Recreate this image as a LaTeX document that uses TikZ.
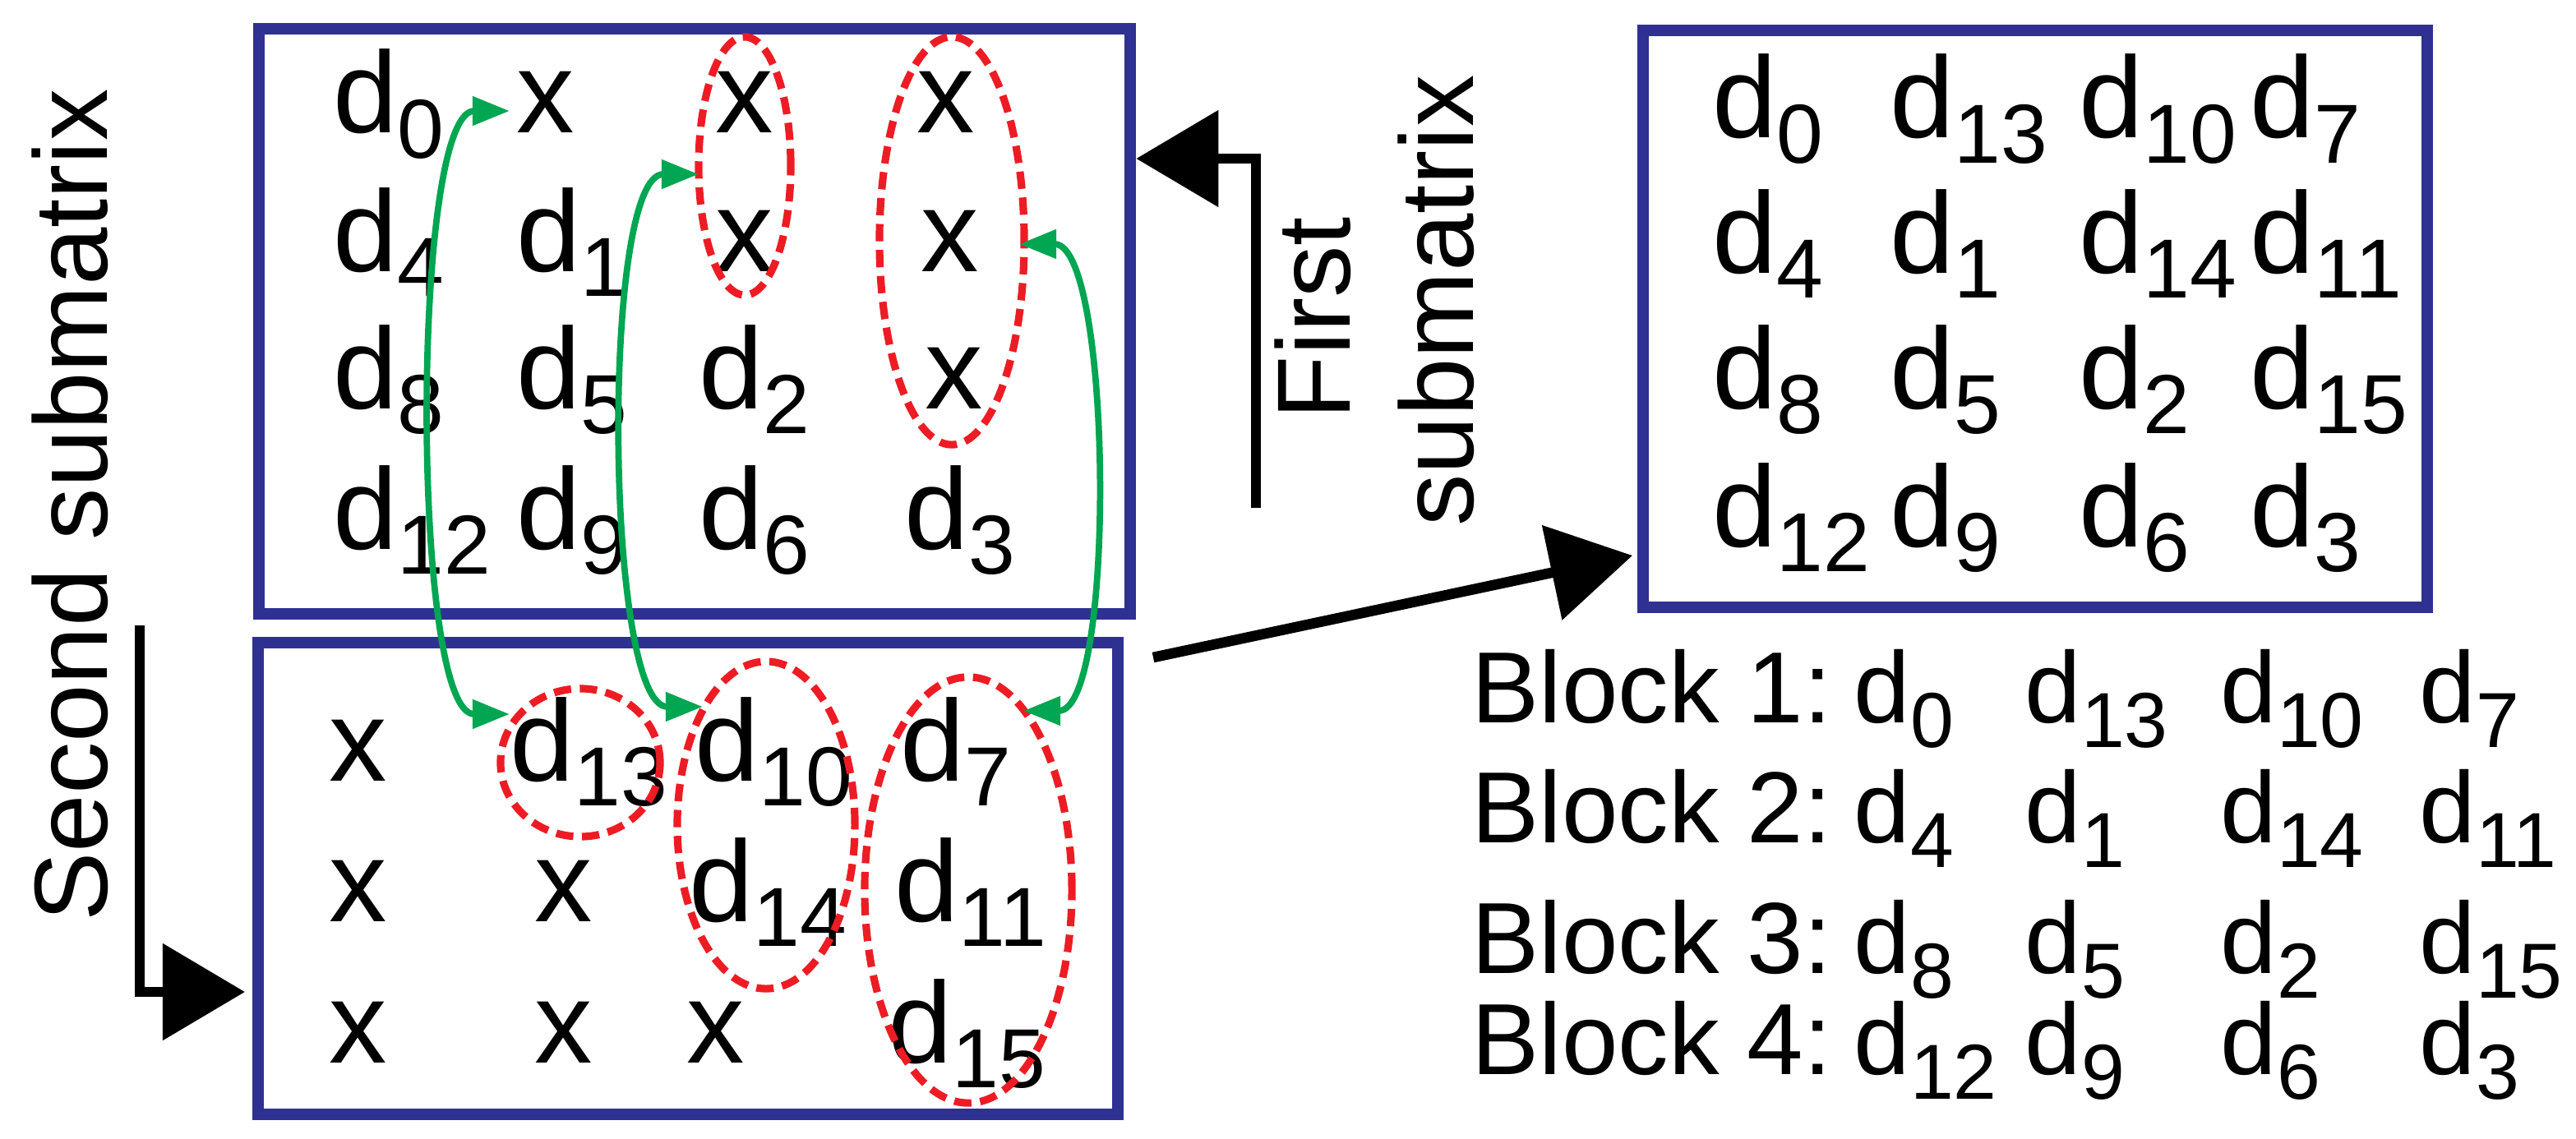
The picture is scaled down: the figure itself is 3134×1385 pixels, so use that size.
\documentclass[tikz,border=0pt]{standalone}
\usepackage{fontspec}
\setmainfont{Liberation Sans}
\usetikzlibrary{arrows.meta,shapes.geometric}
\definecolor{boxblue}{RGB}{46,49,146}
\definecolor{ringred}{RGB}{237,28,36}
\definecolor{swapgreen}{RGB}{0,166,81}
\newcommand{\sd}[1]{d\raisebox{-0.22em}{\fontsize{29}{29}\selectfont #1}}
\newcommand{\bd}[1]{d\raisebox{-0.25em}{\fontsize{27}{27}\selectfont #1}}

\begin{document}
\begin{tikzpicture}[x=0.01cm,y=-0.01cm]
\tikzstyle{every node}=[inner sep=0pt]
\tikzstyle{entry}=[anchor=base west,font=\fontsize{40}{40}\selectfont]
\tikzstyle{blk}=[anchor=base west,font=\fontsize{35}{35}\selectfont]
\tikzstyle{label}=[font=\fontsize{36}{36}\selectfont]
\tikzstyle{box}=[draw=boxblue,line width=4pt]
\tikzstyle{ring}=[draw=ringred,ellipse,line width=2.6pt,dash pattern=on 6pt off 3pt]
\tikzstyle{swap}=[draw=swapgreen,line width=2.2pt,{Triangle[length=0.45cm,width=0.34cm]}-{Triangle[length=0.45cm,width=0.34cm]}]
\tikzstyle{move}=[draw=black,line width=3.6pt,-{Triangle[length=1cm,width=1.15cm]}]
\useasboundingbox (0,0) rectangle (3134,1385);
% boxes
\node (first) [box,minimum width=10.6cm,minimum height=7.11cm] at (845,391) {};
\node (second) [box,minimum width=10.45cm,minimum height=5.74cm] at (837,1069) {};
\node (result) [box,minimum width=9.54cm,minimum height=7.01cm] at (2476,388) {};
% first submatrix
\foreach \x/\y/\t/\n in {405/162/\sd{0}/a0, 628/162/x/a1, 870/162/x/a2, 1115/162/x/a3,
  405/330/\sd{4}/b0, 628/330/\sd{1}/b1, 870/330/x/b2, 1120/330/x/b3,
  405/497/\sd{8}/c0, 628/497/\sd{5}/c1, 850/497/\sd{2}/c2, 1125/497/x/c3,
  405/668/\sd{12}/e0, 628/668/\sd{9}/e1, 850/668/\sd{6}/e2, 1100/668/\sd{3}/e3}
  \node (f\n) [entry] at (\x,\y) {\t};
% second submatrix
\foreach \x/\y/\t/\n in {400/950/x/a0, 620/950/\sd{13}/a1, 845/950/\sd{10}/a2, 1095/950/\sd{7}/a3,
  400/1121/x/b0, 650/1121/x/b1, 838/1121/\sd{14}/b2, 1088/1121/\sd{11}/b3,
  400/1293/x/c0, 650/1293/x/c1, 835/1293/x/c2, 1080/1293/\sd{15}/c3}
  \node (s\n) [entry] at (\x,\y) {\t};
% result matrix
\foreach \x/\y/\t/\n in {2083/168/\sd{0}/a0, 2299/168/\sd{13}/a1, 2529/168/\sd{10}/a2, 2737/168/\sd{7}/a3,
  2083/332/\sd{4}/b0, 2299/332/\sd{1}/b1, 2529/332/\sd{14}/b2, 2737/332/\sd{11}/b3,
  2083/497/\sd{8}/c0, 2299/497/\sd{5}/c1, 2529/497/\sd{2}/c2, 2737/497/\sd{15}/c3,
  2083/665/\sd{12}/e0, 2299/665/\sd{9}/e1, 2529/665/\sd{6}/e2, 2737/665/\sd{3}/e3}
  \node (r\n) [entry] at (\x,\y) {\t};
% blocks
\foreach \y/\k/\p/\q/\r/\s in {879/1/0/13/10/7, 1025/2/4/1/14/11, 1184/3/8/5/2/15, 1307/4/12/9/6/3} {
  \node (blk\k) [blk] at (1790,\y) {Block \k:};
  \node (blk\k a) [blk] at (2255,\y) {\bd{\p}};
  \node (blk\k b) [blk] at (2463,\y) {\bd{\q}};
  \node (blk\k c) [blk] at (2701,\y) {\bd{\r}};
  \node (blk\k d) [blk] at (2943,\y) {\bd{\s}};
}
% rings
\node (ring1) [ring,minimum width=1.12cm,minimum height=3.14cm] at (906,202) {};
\node (ring2) [ring,minimum width=1.76cm,minimum height=4.96cm] at (1158,293) {};
\node (ring3) [ring,minimum width=1.94cm,minimum height=1.8cm] at (706,928) {};
\node (ring4) [ring,minimum width=2.16cm,minimum height=3.98cm] at (932,1004) {};
\node (ring5) [ring,minimum width=2.52cm,minimum height=5.18cm] at (1178,1083) {};
% swaps
\coordinate (t1) at (620,135); \coordinate (u1) at (620,869);
\coordinate (t2) at (850,212); \coordinate (u2) at (855,860);
\coordinate (t3) at (1240,297); \coordinate (u3) at (1245,865);
\draw[swap] (t1) to[out=180,in=180,looseness=0.42] (u1);
\draw[swap] (t2) to[out=180,in=180,looseness=0.47] (u2);
\draw[swap] (t3) to[out=0,in=0,looseness=0.51] (u3);
% labels and moves
\node (lsecond) [label,rotate=90] at (85,615) {Second submatrix};
\node (lfirst) [label,rotate=90] at (1597,387) {First};
\node (lsub) [label,rotate=90] at (1747,366) {submatrix};
\coordinate (m1) at (1528,618); \coordinate (m2) at (170,761);
\coordinate (m3) at (1403,800);
\draw[move] (m1) -- (1528,193) -- (first.east |- 0,193);
\draw[move] (m2) -- (170,1207) -- (298,1207);
\draw[move] (m3) -- (1986,676);
\end{tikzpicture}
\end{document}
